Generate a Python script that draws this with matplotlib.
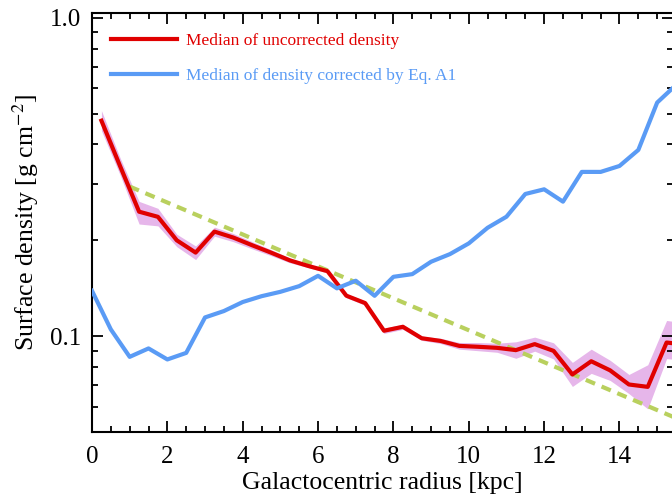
import matplotlib
matplotlib.use("Agg")
import matplotlib.pyplot as plt
from matplotlib.ticker import MultipleLocator, LogLocator, NullFormatter, FixedLocator, FixedFormatter

plt.rcParams["font.family"] = ["Liberation Serif", "DejaVu Serif"]
plt.rcParams["mathtext.fontset"] = "stix"

# uncorrected median profile (every 0.5 kpc from 0.25) with its spread
r_red = [0.25, 0.75, 1.25, 1.75, 2.25, 2.75, 3.25, 3.75, 4.25, 4.75, 5.25,
         5.75, 6.25, 6.75, 7.25, 7.75, 8.25, 8.75, 9.25, 9.75, 10.25, 10.75,
         11.25, 11.75, 12.25, 12.75, 13.25, 13.75, 14.25, 14.75, 15.25, 15.75]
sd_red = [0.475, 0.341, 0.246, 0.237, 0.200, 0.183, 0.213, 0.204, 0.193, 0.183,
          0.173, 0.166, 0.160, 0.134, 0.127, 0.104, 0.107, 0.0985, 0.0966, 0.0932,
          0.0926, 0.0919, 0.0904, 0.0944, 0.0899, 0.0758, 0.0834, 0.0781, 0.0705,
          0.0693, 0.0955, 0.094]
sd_red_hi = [0.511, 0.362, 0.265, 0.252, 0.209, 0.192, 0.220, 0.210, 0.198, 0.187,
             0.176, 0.168, 0.162, 0.136, 0.129, 0.106, 0.109, 0.100, 0.0985, 0.0955,
             0.0955, 0.0950, 0.0960, 0.0993, 0.0953, 0.0827, 0.0910, 0.0840, 0.0758,
             0.0813, 0.112, 0.110]
sd_red_lo = [0.442, 0.320, 0.225, 0.222, 0.191, 0.174, 0.206, 0.198, 0.188, 0.179,
             0.170, 0.164, 0.158, 0.132, 0.125, 0.102, 0.105, 0.097, 0.0948, 0.0910,
             0.0900, 0.0890, 0.0852, 0.0897, 0.0848, 0.0695, 0.0764, 0.0726, 0.0660,
             0.0591, 0.085, 0.084]

# corrected median profile (every 0.5 kpc from 0)
r_blue = [0.0, 0.5, 1.0, 1.5, 2.0, 2.5, 3.0, 3.5, 4.0, 4.5, 5.0, 5.5, 6.0, 6.5,
          7.0, 7.5, 8.0, 8.5, 9.0, 9.5, 10.0, 10.5, 11.0, 11.5, 12.0, 12.5, 13.0,
          13.5, 14.0, 14.5, 15.0, 15.5]
sd_blue = [0.1388, 0.105, 0.0861, 0.0915, 0.0845, 0.0886, 0.1145, 0.1199, 0.128,
           0.1335, 0.1378, 0.1436, 0.1547, 0.1413, 0.1493, 0.1339, 0.1536, 0.1566,
           0.1713, 0.181, 0.1956, 0.219, 0.2372, 0.2796, 0.2892, 0.2645, 0.328,
           0.328, 0.3424, 0.3845, 0.5416, 0.615]

# exponential disc reference
r_exp = [1.0, 15.5]
sd_exp = [0.295, 0.0553]

RED = "#e00000"
BLUE = "#5a9bf5"
PINK = "#e6b6ea"
GREEN = "#b9d05e"

fig = plt.figure(figsize=(6.72, 4.97), dpi=100)
ax = fig.add_axes([92 / 672, 1 - 432 / 497, 581 / 672, (432 - 13) / 497])

ax.fill_between(r_red, sd_red_lo, sd_red_hi, color=PINK, lw=0, zorder=1)
ax.plot(r_exp, sd_exp, color=GREEN, lw=3, dashes=(2.4, 1.7),
        dash_capstyle="butt", zorder=2)
ax.plot(r_red, sd_red, color=RED, lw=3, zorder=3,
        label="Median of uncorrected density")
ax.plot(r_blue, sd_blue, color=BLUE, lw=3, zorder=4,
        label="Median of density corrected by Eq. A1")

ax.set_yscale("log")
ax.set_xlim(0, 15.42)
ax.set_ylim(0.05, 1.035)

ax.xaxis.set_major_locator(MultipleLocator(2))
ax.xaxis.set_minor_locator(MultipleLocator(0.5))
ax.yaxis.set_major_locator(FixedLocator([0.1, 1.0]))
ax.yaxis.set_major_formatter(FixedFormatter(["0.1", "1.0"]))
ax.yaxis.set_minor_locator(LogLocator(base=10, subs=range(2, 10)))
ax.yaxis.set_minor_formatter(NullFormatter())

ax.tick_params(which="both", direction="in", top=True, right=True,
               width=1.3, labelsize=18, pad=8)
ax.tick_params(axis="x", which="major", pad=10)
ax.tick_params(which="major", length=8)
ax.tick_params(which="minor", length=4.5)
for s in ax.spines.values():
    s.set_linewidth(1.5)

ax.set_xlabel("Galactocentric radius [kpc]", fontsize=18.5, labelpad=3)
ax.set_ylabel("Surface density [g cm$^{-2}$]", fontsize=18.5, labelpad=6)

leg = ax.legend(loc="upper left", bbox_to_anchor=(0.033, 0.952),
                frameon=False, fontsize=12.5, handlelength=3.8,
                handletextpad=0.5, labelspacing=1.05, borderaxespad=0,
                borderpad=0, labelcolor="linecolor")

fig.savefig("out.png", dpi=100)
